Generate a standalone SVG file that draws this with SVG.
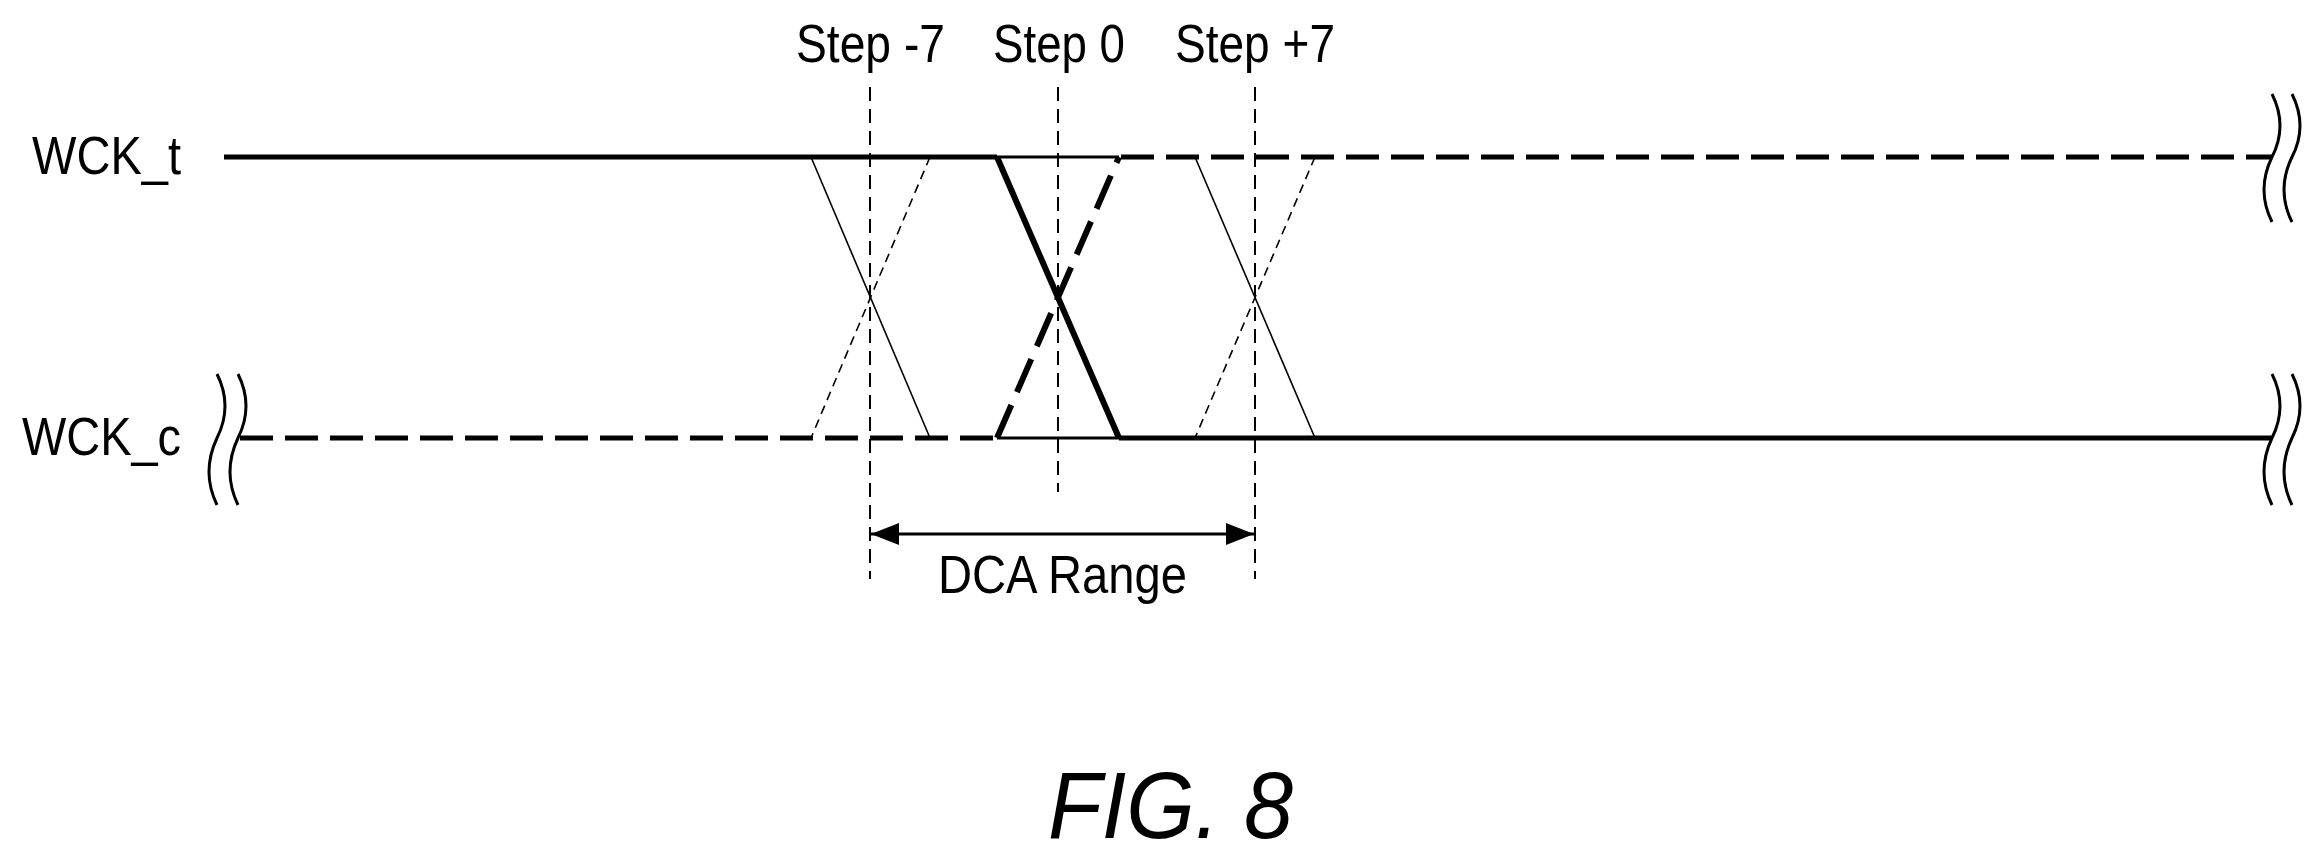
<svg xmlns="http://www.w3.org/2000/svg" width="2322" height="859" viewBox="0 0 2322 859">
<style>
text{font-family:"Liberation Sans",Arial,sans-serif;fill:#000}
.lbl{font-size:54px}
.sig{stroke:#000;fill:none;stroke-width:5}
.dsig{stroke:#000;fill:none;stroke-width:5;stroke-dasharray:33 12}
.mid{stroke:#000;fill:none;stroke-width:3}
.thin{stroke:#000;fill:none;stroke-width:1.6}
.thind{stroke:#000;fill:none;stroke-width:1.6;stroke-dasharray:9 6}
.bold{stroke:#000;fill:none;stroke-width:6}
.boldd{stroke:#000;fill:none;stroke-width:6;stroke-dasharray:36 14}
.vd{stroke:#000;fill:none;stroke-width:2;stroke-dasharray:14 8}
.brk{stroke:#000;fill:none;stroke-width:3}
</style>
<defs>
<marker id="ah" viewBox="0 0 28 22" refX="28" refY="11" markerWidth="28" markerHeight="22" markerUnits="userSpaceOnUse" orient="auto-start-reverse">
<path d="M0,0 L28,11 L0,22 Z" fill="#000"/>
</marker>
</defs>
<g id="labels">
<text class="lbl" x="32" y="174" font-size="57" textLength="149" lengthAdjust="spacingAndGlyphs">WCK_t</text>
<text class="lbl" x="22" y="455" font-size="57" textLength="159" lengthAdjust="spacingAndGlyphs">WCK_c</text>
<text class="lbl" x="796" y="62" font-size="52" textLength="149" lengthAdjust="spacingAndGlyphs">Step -7</text>
<text class="lbl" x="993" y="62" font-size="52" textLength="132" lengthAdjust="spacingAndGlyphs">Step 0</text>
<text class="lbl" x="1175" y="62" font-size="52" textLength="160" lengthAdjust="spacingAndGlyphs">Step +7</text>
<text class="lbl" x="938" y="593" textLength="249" lengthAdjust="spacingAndGlyphs">DCA Range</text>
<text x="1048" y="838" font-size="95" font-style="italic" textLength="245" lengthAdjust="spacingAndGlyphs">FIG. 8</text>
</g>
<g id="wck_t">
<line class="sig" x1="224" y1="157" x2="997" y2="157"/>
<line class="mid" x1="997" y1="157" x2="1119" y2="157"/>
<line class="dsig" x1="1121" y1="157" x2="2272" y2="157"/>
</g>
<g id="wck_c">
<line class="dsig" x1="240" y1="438" x2="997" y2="438"/>
<line class="mid" x1="997" y1="438" x2="1119" y2="438"/>
<line class="sig" x1="1119" y1="438" x2="2272" y2="438"/>
</g>
<g id="breaks">
<path class="brk" d="M2272,94 Q2288,126 2272,157 Q2256,190 2272,222"/>
<path class="brk" d="M2292,94 Q2308,126 2292,157 Q2276,190 2292,222"/>
<path class="brk" d="M2272,374 Q2288,406 2272,438 Q2256,472 2272,505"/>
<path class="brk" d="M2292,374 Q2308,406 2292,438 Q2276,472 2292,505"/>
<path class="brk" d="M217,374 Q233,406 217,438 Q201,472 217,505"/>
<path class="brk" d="M238,374 Q254,406 238,438 Q222,472 238,505"/>
</g>
<g id="transitions">
<line class="thin" x1="811" y1="157" x2="930" y2="438"/>
<line class="thind" x1="930" y1="157" x2="811" y2="438"/>
<line class="bold" x1="997" y1="157" x2="1119" y2="438"/>
<line class="boldd" x1="997" y1="438" x2="1119" y2="157"/>
<line class="thin" x1="1195" y1="157" x2="1315" y2="438"/>
<line class="thind" x1="1315" y1="157" x2="1195" y2="438"/>
</g>
<g id="connectors">
<line class="vd" x1="870" y1="87" x2="870" y2="579"/>
<line class="vd" x1="1058" y1="87" x2="1058" y2="492"/>
<line class="vd" x1="1255" y1="87" x2="1255" y2="579"/>
<line stroke="#000" stroke-width="3" x1="871" y1="534" x2="1254" y2="534" marker-start="url(#ah)" marker-end="url(#ah)"/>
</g>
</svg>
